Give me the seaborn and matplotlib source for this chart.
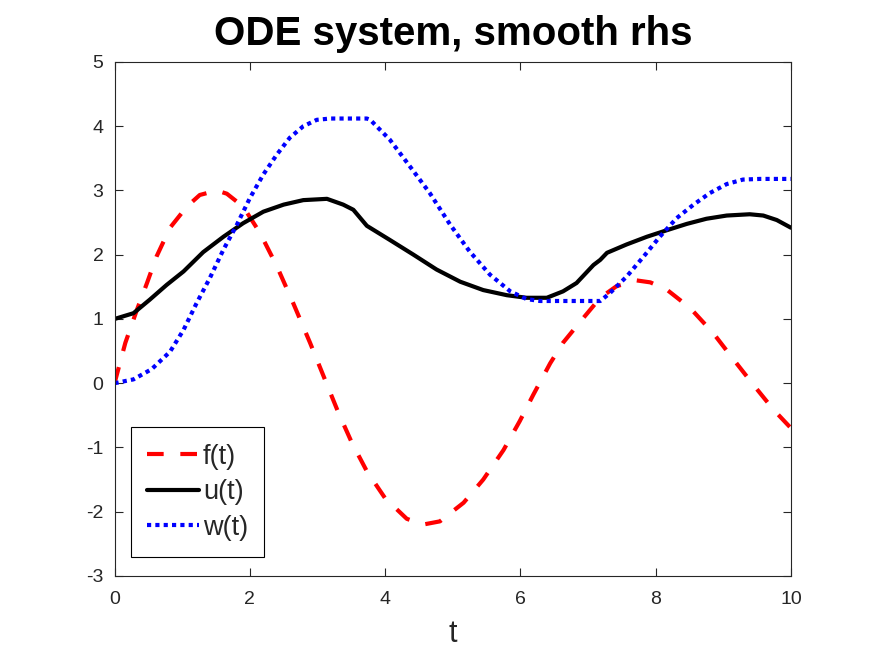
"""ODE system with smooth right-hand side: f(t), u(t), w(t)."""

import matplotlib
matplotlib.use('Agg')
import matplotlib.pyplot as plt
import seaborn as sns

# f(t): forcing term (red dashed)
f_t = [0, 0.16, 0.33, 0.48, 0.62, 0.82, 1.07, 1.26, 1.51, 1.66, 1.90, 2.15,
       2.40, 2.64, 2.89, 3.14, 3.31, 3.51, 3.73, 4.0, 4.32, 4.56, 4.81, 5.16,
       5.45, 5.75, 5.99, 6.19, 6.44, 6.63, 6.91, 7.18, 7.42, 7.72, 7.92, 8.16,
       8.51, 8.85, 9.15, 9.44, 9.74, 10.0]
f_vals = [0, 0.63, 1.14, 1.56, 1.97, 2.42, 2.75, 2.93, 3.0, 2.95, 2.75, 2.34,
          1.82, 1.25, 0.63, -0.02, -0.46, -0.93, -1.37, -1.79, -2.11, -2.20,
          -2.15, -1.86, -1.50, -1.04, -0.59, -0.18, 0.31, 0.63, 0.99, 1.33,
          1.51, 1.60, 1.57, 1.46, 1.17, 0.78, 0.37, -0.02, -0.41, -0.70]

# u(t): solution (black solid)
u_t = [0, 0.28, 0.52, 0.77, 1.02, 1.31, 1.61, 1.90, 2.20, 2.50, 2.79, 3.14,
       3.38, 3.53, 3.73, 4.07, 4.42, 4.76, 5.11, 5.45, 5.80, 6.09, 6.39, 6.63,
       6.83, 7.08, 7.18, 7.28, 7.57, 7.87, 8.16, 8.46, 8.75, 9.05, 9.39, 9.59,
       9.79, 10.0]
u_vals = [1.0, 1.09, 1.30, 1.53, 1.74, 2.04, 2.28, 2.49, 2.67, 2.78, 2.85, 2.87,
          2.78, 2.70, 2.45, 2.23, 2.0, 1.77, 1.58, 1.45, 1.37, 1.33, 1.33, 1.43,
          1.56, 1.84, 1.92, 2.03, 2.16, 2.28, 2.38, 2.48, 2.56, 2.61, 2.63, 2.61,
          2.54, 2.42]

# w(t): second component (blue dotted)
w_t = [0, 0.28, 0.55, 0.82, 1.02, 1.21, 1.41, 1.61, 1.81, 2.00, 2.20, 2.40,
       2.59, 2.79, 2.99, 3.19, 3.73, 3.78, 4.07, 4.37, 4.66, 4.96, 5.25, 5.55,
       5.85, 6.09, 6.29, 7.18, 7.32, 7.57, 7.82, 8.06, 8.31, 8.56, 8.80, 9.05,
       9.29, 9.54, 10.0]
w_vals = [0, 0.06, 0.22, 0.49, 0.83, 1.24, 1.64, 2.08, 2.47, 2.88, 3.25, 3.56,
          3.82, 4.0, 4.10, 4.12, 4.12, 4.10, 3.79, 3.37, 2.96, 2.47, 2.05, 1.69,
          1.43, 1.31, 1.28, 1.28, 1.40, 1.66, 1.97, 2.28, 2.57, 2.78, 2.96, 3.10,
          3.17, 3.18, 3.18]

x_ticks = [0, 2, 4, 6, 8, 10]
y_ticks = [-3, -2, -1, 0, 1, 2, 3, 4, 5]

sns.set_style('white')
plt.rcParams['font.family'] = ['Liberation Sans', 'DejaVu Sans']
plt.rcParams['axes.unicode_minus'] = False  # plain hyphen like MATLAB

fig = plt.figure(figsize=(8.75, 6.56), dpi=100)
ax = fig.add_axes([0.1309, 0.122, 0.7731, 0.7835])

lw = 3
sns.lineplot(x=f_t, y=f_vals, ax=ax, color='red', linewidth=lw,
             linestyle=(0, (4, 4)), label='f(t)')
sns.lineplot(x=u_t, y=u_vals, ax=ax, color='black', linewidth=lw,
             label='u(t)')
sns.lineplot(x=w_t, y=w_vals, ax=ax, color='blue', linewidth=lw,
             linestyle=(0, (1, 1)), label='w(t)')

ax.set_xlim(0, 10)
ax.set_ylim(-3, 5)
ax.set_xticks(x_ticks)
ax.set_yticks(y_ticks)

# MATLAB-like box with inward ticks on all sides
for side in ['left', 'right', 'top', 'bottom']:
    ax.spines[side].set_visible(True)
    ax.spines[side].set_color('#262626')
    ax.spines[side].set_linewidth(0.8)
ax.tick_params(direction='in', length=6, width=0.8, color='#262626',
               labelsize=14, labelcolor='#262626',
               top=True, right=True, bottom=True, left=True)
ax.tick_params(axis='x', pad=11)
ax.tick_params(axis='y', pad=8)

ax.set_title('ODE system, smooth rhs', fontsize=29, fontweight='bold',
             color='black', pad=12)
ax.set_xlabel('t', fontsize=22, color='#262626', labelpad=8)
ax.set_ylabel('')

leg = ax.legend(loc='lower left', bbox_to_anchor=(0.0244, 0.037),
                borderaxespad=0, fontsize=19.5, handlelength=1.9,
                handletextpad=0.15, labelspacing=0.35, borderpad=0.6,
                fancybox=False, framealpha=1, edgecolor='black')
leg.get_frame().set_linewidth(0.8)

fig.savefig('out.png', dpi=100)
